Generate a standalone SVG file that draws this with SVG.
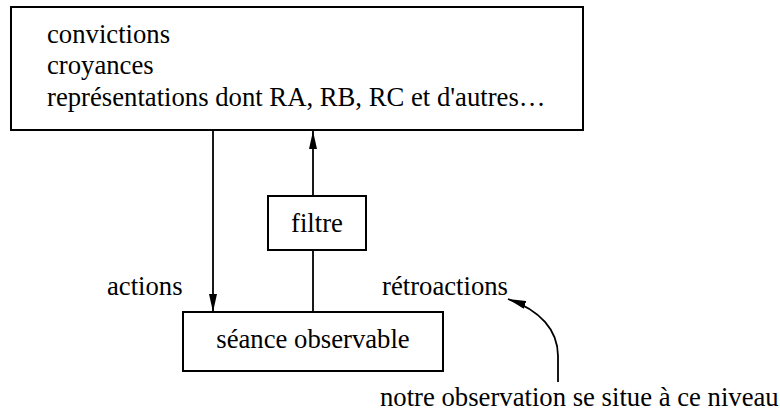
<svg xmlns="http://www.w3.org/2000/svg" width="780" height="412" viewBox="0 0 780 412">
  <style>
    .box { fill: #fff; stroke: #000; stroke-width: 2; }
    .txt { font-family: 'Liberation Serif', 'Times New Roman', Times, serif; font-size: 26.7px; fill: #000; }
    .wire { fill: none; stroke: #000; stroke-width: 1.8; }
  </style>
  <defs>
    <marker id="head" viewBox="0 0 18 8" refX="18" refY="4" markerWidth="18" markerHeight="8" markerUnits="userSpaceOnUse" orient="auto">
      <path d="M0,0 L18,4 L0,8 Z" fill="#000"/>
    </marker>
  </defs>
  <rect width="780" height="412" fill="#fff"/>

  <g id="representations">
    <rect class="box" x="11" y="7" width="572" height="123"/>
    <text class="txt" x="47" y="43">convictions</text>
    <text class="txt" x="47" y="74">croyances</text>
    <text class="txt" x="47" y="106">représentations dont RA, RB, RC et d'autres…</text>
  </g>

  <g id="filtre">
    <rect class="box" x="268" y="196" width="98" height="54"/>
    <text class="txt" x="317" y="232" text-anchor="middle">filtre</text>
  </g>

  <g id="seance">
    <rect class="box" x="183" y="312" width="260" height="59"/>
    <text class="txt" x="313" y="348" text-anchor="middle">séance observable</text>
  </g>

  <g id="connectors">
    <line class="wire" x1="213" y1="130" x2="213" y2="312" marker-end="url(#head)"/>
    <line class="wire" x1="313" y1="196" x2="313" y2="131" marker-end="url(#head)"/>
    <line class="wire" x1="313" y1="250" x2="313" y2="312"/>
    <path class="wire" d="M558,382 L558,356 C558,330 540,310 508,299" marker-end="url(#head)"/>
  </g>

  <g id="labels">
    <text class="txt" x="107" y="295">actions</text>
    <text class="txt" x="382" y="295">rétroactions</text>
    <text class="txt" x="380" y="406">notre observation se situe à ce niveau</text>
  </g>
</svg>
